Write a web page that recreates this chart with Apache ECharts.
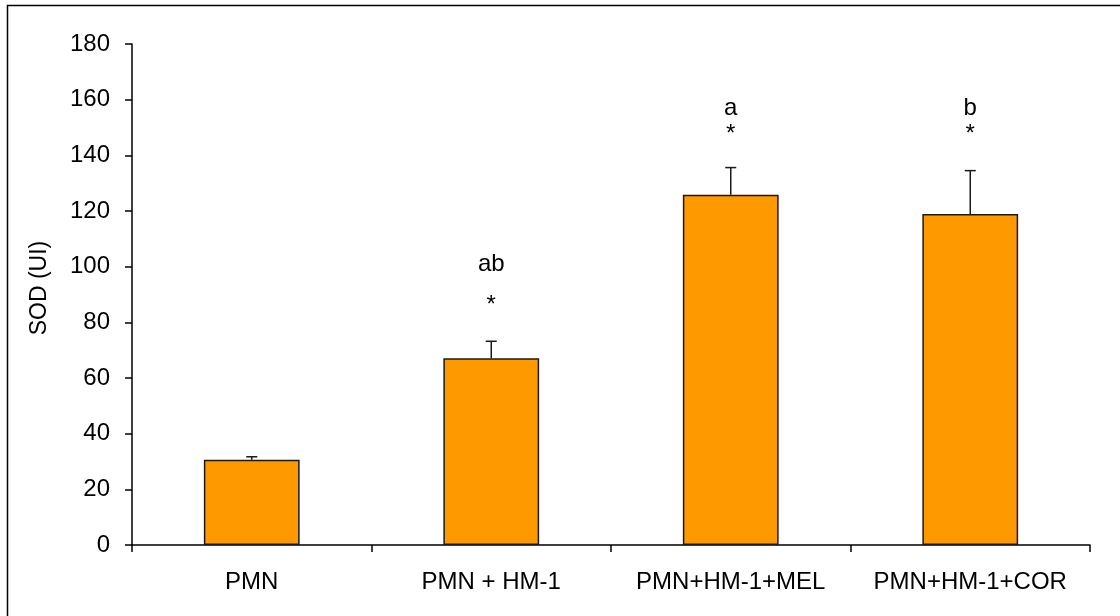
<!DOCTYPE html>
<html>
<head>
<meta charset="utf-8">
<title>SOD (UI)</title>
<script src="https://cdn.jsdelivr.net/npm/echarts@6/dist/echarts.min.js"></script>
<style>
  html, body { margin: 0; padding: 0; background: #fff; }
  #chart { width: 1120px; height: 616px; }
</style>
</head>
<body>
<div id="chart"></div>
<script>
// Groups and measured SOD activity
const categories = ['PMN', 'PMN + HM-1', 'PMN+HM-1+MEL', 'PMN+HM-1+COR'];
const sodMean = [30.6, 67.1, 125.8, 118.9];
const sodError = [1.1, 6.1, 9.8, 15.6];

// Significance marks above the bars (text and the value level they sit at)
const starText = ['', '*', '*', '*'];
const starLevel = [null, 86, 147.5, 147.5];
const letterText = ['', 'ab', 'a', 'b'];
const letterLevel = [null, 101, 157, 157];

// Y axis scale
const yMin = 0, yMax = 180, yStep = 20;

const FONT = 'Liberation Sans, Arial, sans-serif';
const chart = echarts.init(document.getElementById('chart'), null, { renderer: 'canvas' });

const errorData = categories.map((c, i) => [i, sodMean[i], sodMean[i] + sodError[i]]);
const starData = categories.map((c, i) => [i, starLevel[i], starText[i]]).filter(d => d[1] != null);
const letterData = categories.map((c, i) => [i, letterLevel[i], letterText[i]]).filter(d => d[1] != null);

function textSeries(data, size) {
  return {
    type: 'custom',
    data: data,
    z: 5,
    renderItem: function (params, api) {
      const p = api.coord([api.value(0), api.value(1)]);
      return {
        type: 'text',
        style: {
          text: data[params.dataIndex][2],
          x: p[0], y: p[1],
          align: 'center', verticalAlign: 'middle',
          font: size + 'px ' + FONT,
          fill: '#000'
        }
      };
    }
  };
}

chart.setOption({
  animation: false,
  backgroundColor: '#fff',
  graphic: [
    {
      type: 'rect',
      shape: { x: 7.5, y: 5.5, width: 1130, height: 630 },
      style: { fill: 'none', stroke: '#000', lineWidth: 1.5 },
      silent: true, z: -1
    },
    {
      type: 'text',
      x: 40, y: 288,
      rotation: Math.PI / 2,
      style: {
        text: 'SOD (UI)',
        font: '23px ' + FONT,
        fill: '#000',
        align: 'center',
        verticalAlign: 'middle'
      },
      silent: true
    }
  ],
  grid: { left: 132, right: 30, top: 44, bottom: 71 },
  xAxis: {
    type: 'category',
    data: categories,
    boundaryGap: true,
    axisLine: { lineStyle: { color: '#000', width: 1.5 } },
    axisTick: { show: true, interval: 0, length: 7, alignWithLabel: false, lineStyle: { color: '#000', width: 1.5 } },
    axisLabel: { interval: 0, color: '#000', fontSize: 24, fontFamily: FONT, margin: 25 },
    splitLine: { show: false }
  },
  yAxis: {
    type: 'value',
    min: yMin, max: yMax, interval: yStep,
    axisLine: { show: true, lineStyle: { color: '#000', width: 1.5 } },
    axisTick: { show: true, length: 7, lineStyle: { color: '#000', width: 1.5 } },
    axisLabel: { color: '#000', fontSize: 24, fontFamily: FONT, margin: 22 },
    splitLine: { show: false }
  },
  series: [
    {
      type: 'bar',
      data: sodMean,
      barWidth: '40%',
      itemStyle: { color: '#FF9900', borderColor: '#1a1a1a', borderWidth: 1.5 },
      z: 2
    },
    {
      type: 'custom',
      data: errorData,
      z: 3,
      renderItem: function (params, api) {
        const base = api.coord([api.value(0), api.value(1)]);
        const top = api.coord([api.value(0), api.value(2)]);
        const half = 5.5;
        const st = { stroke: '#1a1a1a', lineWidth: 1.5 };
        return {
          type: 'group',
          children: [
            { type: 'line', shape: { x1: top[0], y1: base[1], x2: top[0], y2: top[1] }, style: st },
            { type: 'line', shape: { x1: top[0] - half, y1: top[1], x2: top[0] + half, y2: top[1] }, style: st }
          ]
        };
      }
    },
    textSeries(starData, 24),
    textSeries(letterData, 24)
  ]
});
</script>
</body>
</html>
